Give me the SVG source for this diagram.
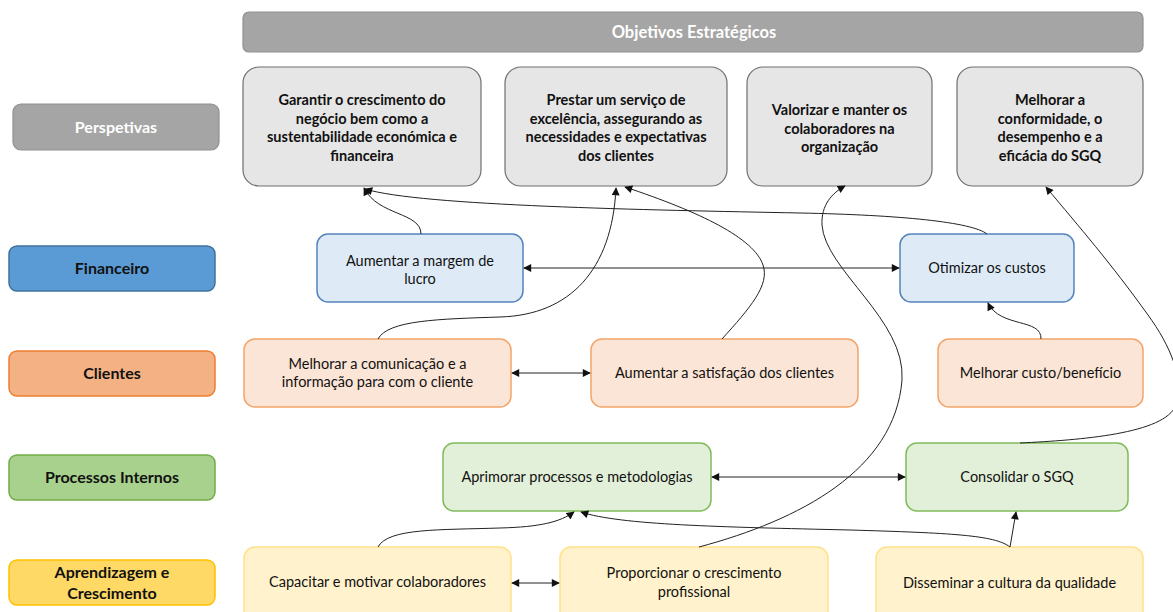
<svg xmlns="http://www.w3.org/2000/svg" width="1173" height="612" viewBox="0 0 1173 612">
  <style>
    text { font-family: Lato, "Open Sans", "Liberation Sans", sans-serif; text-anchor: middle; fill: #111; }
    .title { font-size: 16.5px; font-weight: bold; fill: #fff; }
    .obj { font-size: 14.5px; font-weight: bold; }
    .lab { font-size: 16px; font-weight: bold; }
    .labw { font-size: 16px; font-weight: bold; fill: #fff; }
    .txt { font-size: 14.5px; }
    .gray { fill: #a5a5a5; stroke: #909090; stroke-width: 1.2; }
    .obox { fill: #e7e6e6; stroke: #6f6f6f; stroke-width: 1.2; }
    .lblue { fill: #5b9bd5; stroke: #41719c; stroke-width: 1.5; }
    .lorange { fill: #f4b183; stroke: #ed7d31; stroke-width: 1.5; }
    .lgreen { fill: #a9d18e; stroke: #70ad47; stroke-width: 1.5; }
    .lyellow { fill: #ffd966; stroke: #ffc000; stroke-width: 1.5; }
    .nblue { fill: #deebf7; stroke: #5584bd; stroke-width: 1.5; }
    .norange { fill: #fbe5d6; stroke: #f4a468; stroke-width: 1.5; }
    .ngreen { fill: #e2f0d9; stroke: #80bb5a; stroke-width: 1.5; }
    .nyellow { fill: #fff2cc; stroke: #ffe28a; stroke-width: 1.5; }
    .edge { fill: none; stroke: #222; stroke-width: 1; }
  </style>
  <defs>
    <marker id="arrow" viewBox="0 0 10 10" refX="9" refY="5" markerWidth="9" markerHeight="8" markerUnits="userSpaceOnUse" orient="auto-start-reverse">
      <path d="M0,0 L10,5 L0,10 z" fill="#111"/>
    </marker>
  </defs>

  <!-- header -->
  <g id="objetivos">
    <rect class="gray" x="243" y="12" width="900" height="40" rx="6"/>
    <text class="title" x="694" y="38">Objetivos Estratégicos</text>
  </g>

  <!-- strategic objectives -->
  <g id="obj-crescimento">
    <rect class="obox" x="243" y="67" width="238" height="119" rx="16"/>
    <text class="obj" x="362" y="105">Garantir o crescimento do</text>
    <text class="obj" x="362" y="123.5">negócio bem como a</text>
    <text class="obj" x="362" y="142">sustentabilidade económica e</text>
    <text class="obj" x="362" y="160.5">financeira</text>
  </g>
  <g id="obj-servico">
    <rect class="obox" x="505" y="67" width="222" height="119" rx="16"/>
    <text class="obj" x="616" y="105">Prestar um serviço de</text>
    <text class="obj" x="616" y="123.5">excelência, assegurando as</text>
    <text class="obj" x="616" y="142">necessidades e expectativas</text>
    <text class="obj" x="616" y="160.5">dos clientes</text>
  </g>
  <g id="obj-colaboradores">
    <rect class="obox" x="747" y="67" width="185" height="119" rx="16"/>
    <text class="obj" x="839.5" y="115">Valorizar e manter os</text>
    <text class="obj" x="839.5" y="133.5">colaboradores na</text>
    <text class="obj" x="839.5" y="152">organização</text>
  </g>
  <g id="obj-sgq">
    <rect class="obox" x="957" y="67" width="186" height="119" rx="16"/>
    <text class="obj" x="1050" y="105">Melhorar a</text>
    <text class="obj" x="1050" y="123.5">conformidade, o</text>
    <text class="obj" x="1050" y="142">desempenho e a</text>
    <text class="obj" x="1050" y="160.5">eficácia do SGQ</text>
  </g>

  <!-- perspective labels -->
  <g id="perspetivas">
    <rect class="gray" x="13" y="104" width="206" height="46" rx="8"/>
    <text class="labw" x="116" y="132.5">Perspetivas</text>
  </g>
  <g id="financeiro">
    <rect class="lblue" x="9" y="246" width="206" height="45" rx="8"/>
    <text class="lab" x="112" y="274">Financeiro</text>
  </g>
  <g id="clientes">
    <rect class="lorange" x="9" y="351" width="206" height="45" rx="8"/>
    <text class="lab" x="112" y="379">Clientes</text>
  </g>
  <g id="processos">
    <rect class="lgreen" x="9" y="455" width="206" height="45" rx="8"/>
    <text class="lab" x="112" y="483">Processos Internos</text>
  </g>
  <g id="aprendizagem">
    <rect class="lyellow" x="9" y="560" width="206" height="45" rx="8"/>
    <text class="lab" x="112" y="577.5">Aprendizagem e</text>
    <text class="lab" x="112" y="598.5">Crescimento</text>
  </g>

  <!-- Financeiro -->
  <g id="margem-lucro">
    <rect class="nblue" x="317" y="234" width="206" height="68" rx="11"/>
    <text class="txt" x="420" y="265.5">Aumentar a margem de</text>
    <text class="txt" x="420" y="283.5">lucro</text>
  </g>
  <g id="otimizar-custos">
    <rect class="nblue" x="900" y="234" width="174" height="68" rx="11"/>
    <text class="txt" x="987" y="273">Otimizar os custos</text>
  </g>

  <!-- Clientes -->
  <g id="comunicacao">
    <rect class="norange" x="244" y="339" width="267" height="68" rx="11"/>
    <text class="txt" x="377.5" y="369">Melhorar a comunicação e a</text>
    <text class="txt" x="377.5" y="387">informação para com o cliente</text>
  </g>
  <g id="satisfacao">
    <rect class="norange" x="591" y="339" width="267" height="68" rx="11"/>
    <text class="txt" x="724.5" y="378">Aumentar a satisfação dos clientes</text>
  </g>
  <g id="custo-beneficio">
    <rect class="norange" x="938" y="339" width="205" height="68" rx="11"/>
    <text class="txt" x="1040.5" y="378">Melhorar custo/benefício</text>
  </g>

  <!-- Processos Internos -->
  <g id="aprimorar">
    <rect class="ngreen" x="443" y="443" width="268" height="68" rx="11"/>
    <text class="txt" x="577" y="482">Aprimorar processos e metodologias</text>
  </g>
  <g id="consolidar">
    <rect class="ngreen" x="906" y="443" width="222" height="68" rx="11"/>
    <text class="txt" x="1017" y="482">Consolidar o SGQ</text>
  </g>

  <!-- Aprendizagem e Crescimento -->
  <g id="capacitar">
    <rect class="nyellow" x="244" y="547" width="267" height="76" rx="11"/>
    <text class="txt" x="377.5" y="587">Capacitar e motivar colaboradores</text>
  </g>
  <g id="proporcionar">
    <rect class="nyellow" x="560" y="547" width="268" height="76" rx="11"/>
    <text class="txt" x="694" y="578">Proporcionar o crescimento</text>
    <text class="txt" x="694" y="597">profissional</text>
  </g>
  <g id="disseminar">
    <rect class="nyellow" x="876" y="547" width="267" height="76" rx="11"/>
    <text class="txt" x="1009.5" y="588">Disseminar a cultura da qualidade</text>
  </g>

  <!-- connectors -->
  <g id="connectors">
    <path class="edge" d="M421,234 C421,212 378,216 364,188" marker-end="url(#arrow)"/>
    <path class="edge" d="M987,234 C972,222 900,215 800,213 C650,210 420,206 365,189" marker-end="url(#arrow)"/>
    <path class="edge" d="M524,268 L899,268" marker-start="url(#arrow)" marker-end="url(#arrow)"/>
    <path class="edge" d="M378,339 C388,320 440,319 500,317 C570,315 612,270 616,188" marker-end="url(#arrow)"/>
    <path class="edge" d="M722,339 C750,308 770,285 763,265 C754,238 700,212 625,187" marker-end="url(#arrow)"/>
    <path class="edge" d="M699,547 C800,520 895,470 902,380 C906,320 825,270 822,225 C821,205 832,193 845,186" marker-end="url(#arrow)"/>
    <path class="edge" d="M1020,443 C1080,440 1165,434 1176,405 C1185,380 1170,345 1148,315 C1110,262 1080,228 1046,187" marker-end="url(#arrow)"/>
    <path class="edge" d="M1041,339 C1042,318 1000,328 988,303" marker-end="url(#arrow)"/>
    <path class="edge" d="M512,373 L590,373" marker-start="url(#arrow)" marker-end="url(#arrow)"/>
    <path class="edge" d="M712,477 L905,477" marker-start="url(#arrow)" marker-end="url(#arrow)"/>
    <path class="edge" d="M378,547 C388,528 440,530 500,528 C540,527 560,522 574,512" marker-end="url(#arrow)"/>
    <path class="edge" d="M1010,547 C995,535 950,533 850,530 C720,527 620,525 581,512" marker-end="url(#arrow)"/>
    <path class="edge" d="M1010,547 L1016,512" marker-end="url(#arrow)"/>
    <path class="edge" d="M512,583 L559,583" marker-start="url(#arrow)" marker-end="url(#arrow)"/>
  </g>
</svg>
